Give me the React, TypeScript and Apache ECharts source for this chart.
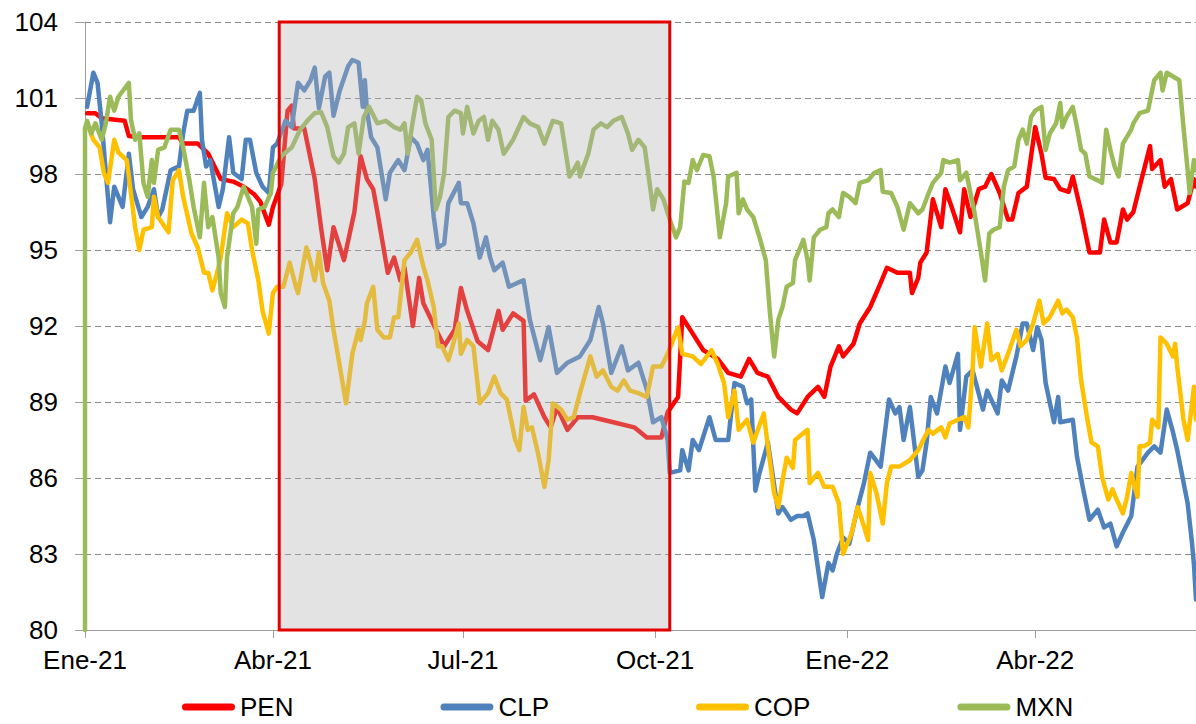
import React, { useEffect, useRef } from "react";
import * as echarts from "echarts";

// x is measured in days since 2021-01-01 (Ene-21)
const X_MAX_DAY = 532;
const TICK_DAYS = [0, 90, 181, 273, 365, 455];
const TICK_LABELS = ["Ene-21", "Abr-21", "Jul-21", "Oct-21", "Ene-22", "Abr-22"];
const Y_TICKS = [80, 83, 86, 89, 92, 95, 98, 101, 104];
const SERIES_NAMES = ["PEN", "CLP", "COP", "MXN"];
const SERIES_COLORS = ["#FF0000", "#4F81BD", "#FFC000", "#9BBB59"];
// shaded window (Abr-21 .. Oct-21), in days
const SHADE_DAYS = [93, 280];

const PEN: [number, number][] = [
  [1, 100.4], [5, 100.4], [8, 100.2], [19, 100.1], [21, 99.5], [27, 99.45], [36, 99.45], [45, 99.45], [47, 99.2], [54, 99.2],
  [59, 98.8], [65, 97.8], [71, 97.7], [76, 97.5], [81, 97.2], [84, 96.9], [88, 96.0], [90, 96.7], [94, 97.6], [97, 100.5],
  [99, 100.7], [100, 99.8], [105, 99.8], [110, 97.8], [113, 95.9], [116, 94.2], [119, 95.9], [124, 94.6], [129, 96.5], [132, 98.7],
  [135, 97.8], [138, 97.4], [140, 96.5], [145, 94.1], [148, 94.7], [151, 93.8], [153, 94.3], [157, 92.0], [160, 93.9], [162, 92.9],
  [169, 91.7], [172, 91.2], [177, 91.85], [180, 93.5], [183, 92.6], [188, 91.4], [193, 91.05], [198, 92.6], [200, 91.85], [205, 92.5],
  [210, 92.2], [211, 89.05], [215, 89.3], [220, 88.4], [223, 88.0], [226, 88.8], [231, 87.9], [236, 88.4], [243, 88.4], [253, 88.2],
  [263, 88.0], [269, 87.6], [276, 87.6], [279, 88.6], [284, 89.2], [286, 92.35], [291, 91.7], [296, 91.05], [303, 90.7], [308, 90.15],
  [314, 90.0], [318, 90.7], [322, 90.15], [327, 90.0], [332, 89.2], [338, 88.7], [341, 88.55], [346, 89.2], [351, 89.6], [354, 89.2],
  [357, 90.4], [361, 91.2], [363, 90.8], [368, 91.3], [371, 92.1], [376, 92.75], [381, 93.7], [384, 94.3], [389, 94.1], [395, 94.1],
  [396, 93.3], [399, 93.9], [400, 94.5], [403, 94.9], [406, 97.0], [410, 95.9], [412, 97.4], [415, 96.7], [419, 95.7], [421, 97.4],
  [424, 96.3], [428, 97.4], [431, 97.5], [434, 98.0], [438, 97.25], [442, 96.2], [444, 96.2], [447, 97.25], [451, 97.5], [455, 99.85],
  [458, 98.8], [460, 97.85], [464, 97.8], [467, 97.4], [471, 97.3], [473, 97.9], [477, 96.5], [481, 94.9], [486, 94.9], [488, 96.2],
  [491, 95.3], [494, 95.3], [497, 96.6], [499, 96.2], [502, 96.5], [505, 97.5], [510, 99.1], [511, 98.2], [515, 98.55], [517, 97.5],
  [520, 97.8], [523, 96.6], [528, 96.85], [531, 97.8], [532, 97.5],
];

const CLP: [number, number][] = [
  [1, 100.65], [4, 102.0], [6, 101.6], [8, 100.0], [10, 98.05], [12, 96.1], [14, 97.5], [18, 96.7], [21, 98.8], [23, 97.4],
  [27, 96.3], [30, 96.7], [33, 97.4], [35, 96.3], [37, 96.6], [41, 98.15], [45, 98.3], [47, 99.6], [49, 100.5], [52, 100.5],
  [55, 101.2], [56, 99.35], [58, 98.3], [60, 98.55], [64, 96.7], [66, 97.4], [69, 99.45], [71, 98.05], [75, 97.8], [77, 99.35],
  [79, 99.35], [82, 98.05], [85, 97.5], [88, 97.25], [90, 99.05], [92, 99.2], [96, 100.1], [99, 99.85], [102, 101.6], [105, 101.3],
  [108, 101.7], [110, 102.2], [112, 100.6], [115, 101.85], [117, 102.0], [119, 100.3], [122, 101.3], [126, 102.25], [128, 102.5], [131, 102.4],
  [133, 100.65], [134, 101.7], [135, 100.5], [137, 99.45], [140, 99.05], [144, 97.0], [146, 98.05], [150, 98.55], [153, 98.15], [156, 99.45],
  [159, 99.2], [162, 98.55], [164, 98.95], [167, 96.3], [169, 95.1], [172, 95.25], [174, 96.85], [179, 97.65], [180, 96.85], [183, 96.85],
  [186, 96.05], [189, 94.7], [192, 95.5], [194, 94.7], [196, 94.2], [200, 94.5], [203, 93.55], [207, 93.7], [210, 93.8], [213, 92.25],
  [218, 90.65], [222, 91.95], [226, 90.15], [231, 90.55], [237, 90.8], [242, 91.45], [246, 92.75], [248, 92.1], [252, 90.15], [257, 91.2],
  [260, 90.25], [265, 90.55], [269, 89.5], [272, 88.2], [276, 88.4], [279, 87.5], [280, 86.2], [285, 86.3], [286, 87.1], [289, 86.3],
  [291, 87.5], [294, 87.1], [299, 88.4], [302, 87.5], [308, 87.5], [311, 89.75], [315, 89.6], [317, 88.95], [319, 89.1], [321, 85.5],
  [323, 86.2], [327, 87.4], [332, 84.6], [334, 84.85], [338, 84.35], [341, 84.5], [344, 84.5], [346, 84.6], [349, 83.55], [353, 81.3],
  [356, 82.65], [358, 82.35], [360, 83.0], [363, 83.65], [366, 83.4], [370, 84.85], [373, 85.8], [376, 87.0], [381, 86.45], [385, 89.1],
  [388, 88.55], [390, 88.8], [392, 87.5], [395, 88.8], [399, 86.05], [401, 86.3], [403, 87.4], [405, 89.2], [408, 88.55], [412, 90.4],
  [414, 89.75], [418, 90.9], [419, 87.9], [422, 90.0], [425, 90.25], [430, 88.7], [432, 89.45], [437, 88.55], [439, 89.85], [442, 89.45],
  [446, 90.8], [449, 92.1], [451, 92.1], [454, 91.05], [456, 91.95], [458, 91.45], [460, 89.75], [464, 88.2], [466, 89.2], [467, 88.2],
  [473, 88.3], [475, 86.85], [478, 85.55], [481, 84.35], [485, 84.75], [488, 84.05], [491, 84.2], [494, 83.3], [497, 83.85], [501, 84.5],
  [504, 86.45], [509, 87.0], [512, 87.25], [515, 87.0], [518, 88.7], [521, 87.8], [523, 87.1], [528, 85.0], [530, 83.5], [531, 82.6],
  [532, 81.2],
];

const COP: [number, number][] = [
  [1, 100.0], [4, 99.35], [7, 99.05], [9, 98.05], [11, 97.65], [14, 99.35], [16, 98.85], [20, 98.55], [22, 97.25], [24, 95.9],
  [26, 95.0], [28, 95.8], [32, 95.9], [33, 97.1], [35, 96.3], [40, 95.7], [42, 97.75], [45, 98.15], [47, 97.1], [51, 95.65],
  [54, 95.1], [57, 94.1], [59, 94.1], [61, 93.4], [64, 94.35], [65, 94.7], [68, 96.45], [71, 95.9], [75, 96.2], [78, 96.05],
  [80, 95.0], [83, 93.8], [85, 92.6], [88, 91.7], [90, 93.3], [92, 93.55], [95, 93.55], [98, 94.5], [101, 93.55], [102, 93.3],
  [106, 95.1], [108, 94.5], [110, 93.8], [112, 94.9], [114, 93.7], [117, 93.0], [119, 91.85], [121, 90.9], [125, 88.95], [128, 90.9],
  [131, 91.85], [132, 91.45], [134, 92.2], [135, 92.9], [138, 93.55], [140, 91.85], [143, 91.55], [146, 91.55], [148, 92.35], [150, 92.35],
  [153, 94.6], [156, 94.9], [159, 95.4], [162, 94.35], [164, 93.8], [167, 92.75], [169, 91.2], [171, 91.2], [174, 90.65], [176, 91.2],
  [179, 92.1], [180, 90.9], [183, 91.45], [186, 91.2], [189, 88.95], [193, 89.35], [196, 90.0], [199, 89.35], [202, 89.1], [206, 87.5],
  [208, 87.1], [210, 88.8], [212, 87.9], [214, 88.0], [217, 86.95], [220, 85.65], [222, 86.7], [224, 88.95], [228, 88.7], [231, 88.3],
  [234, 88.4], [237, 89.35], [242, 90.8], [245, 90.0], [248, 90.25], [252, 89.6], [255, 89.45], [258, 89.85], [261, 89.45], [265, 89.35],
  [269, 89.2], [272, 90.4], [276, 90.4], [279, 90.9], [284, 91.95], [286, 90.9], [291, 90.8], [295, 90.5], [300, 91.05], [303, 90.5],
  [306, 89.75], [308, 88.4], [311, 89.45], [313, 87.9], [317, 88.3], [320, 87.4], [325, 88.55], [327, 87.25], [330, 85.4], [332, 84.85],
  [334, 85.9], [336, 86.8], [339, 86.4], [340, 87.5], [346, 87.9], [347, 85.8], [351, 86.2], [354, 85.65], [358, 85.65], [361, 85.0],
  [363, 83.0], [367, 83.8], [370, 84.85], [372, 84.35], [375, 83.55], [376, 86.2], [379, 85.4], [382, 84.2], [384, 85.8], [386, 86.45],
  [390, 86.45], [395, 86.7], [399, 87.1], [402, 87.6], [404, 87.9], [406, 87.75], [410, 88.0], [412, 87.6], [414, 88.15], [418, 88.3],
  [421, 88.4], [423, 88.0], [425, 90.25], [426, 91.95], [429, 90.4], [432, 92.1], [434, 90.65], [437, 90.9], [439, 90.25], [442, 90.9],
  [446, 91.85], [448, 91.2], [451, 91.45], [454, 92.1], [457, 93.0], [459, 92.1], [462, 92.35], [466, 93.0], [468, 92.5], [470, 92.65],
  [473, 92.35], [475, 91.55], [477, 89.85], [480, 88.3], [482, 87.4], [485, 87.25], [487, 86.05], [490, 85.15], [492, 85.55], [494, 85.15],
  [497, 84.6], [499, 85.25], [501, 86.2], [504, 85.25], [505, 87.25], [507, 87.25], [510, 87.4], [511, 88.3], [514, 88.0], [515, 91.55],
  [518, 91.3], [521, 90.8], [522, 91.3], [523, 90.4], [526, 88.3], [528, 87.5], [531, 89.6], [532, 88.3],
];

const MXN: [number, number][] = [
  [0, 80], [0, 99.8], [1, 100.1], [3, 99.6], [5, 100.0], [8, 99.35], [10, 100.0], [12, 101.05], [14, 100.5], [16, 101.05],
  [21, 101.6], [22, 100.15], [24, 99.35], [26, 99.6], [28, 97.65], [30, 97.1], [32, 98.55], [33, 97.65], [35, 98.95], [38, 99.05],
  [41, 99.75], [45, 99.75], [47, 99.05], [50, 97.75], [52, 96.7], [55, 95.5], [57, 97.65], [59, 95.9], [61, 96.3], [64, 94.7],
  [65, 93.3], [67, 92.75], [68, 94.7], [71, 96.45], [73, 96.7], [76, 97.5], [78, 97.1], [80, 96.7], [82, 95.25], [83, 96.6],
  [86, 96.7], [89, 97.25], [90, 98.05], [94, 98.7], [99, 99.05], [103, 99.75], [107, 100.15], [110, 100.4], [113, 100.45], [116, 99.85],
  [119, 98.7], [121.5, 98.45], [124, 98.8], [126, 99.85], [129, 100.0], [131, 98.8], [133.5, 100.25], [136, 100.65], [140, 100.0], [144, 100.1],
  [148, 99.85], [151, 99.75], [153, 100.0], [154.5, 98.8], [157, 100.1], [159, 101.05], [161, 100.9], [163, 100.0], [166, 99.35], [168, 96.6],
  [170, 97.1], [172, 98.05], [174, 100.25], [177, 100.5], [180, 100.4], [181, 99.6], [183, 100.65], [186, 99.6], [188.5, 100.1], [191, 100.25],
  [193, 99.35], [195, 100.1], [198, 99.75], [200.5, 98.8], [205, 99.35], [210, 100.25], [213, 100.0], [217, 99.85], [220, 99.2], [224, 100.1],
  [228, 100.0], [230, 98.95], [232, 97.9], [234, 98.15], [236, 98.45], [237, 97.9], [241, 98.8], [243.5, 99.75], [247, 100.0], [250, 99.85],
  [253, 100.1], [257, 100.25], [260, 99.6], [262, 98.95], [265, 99.35], [268, 99.05], [271, 97.25], [272, 96.6], [274, 97.4], [277, 97.0],
  [280, 96.2], [283, 95.5], [285, 95.9], [287, 97.7], [289, 97.65], [291, 98.55], [293, 98.15], [296, 98.75], [299, 98.7], [301, 97.9],
  [303, 96.3], [304, 95.5], [307, 96.85], [308, 97.9], [312, 98.05], [313, 96.45], [315, 97.0], [317, 96.6], [320, 96.3], [323, 95.5],
  [326, 94.6], [328, 92.5], [330, 90.8], [332, 92.25], [334, 92.75], [336, 93.55], [339, 93.7], [340, 94.6], [342, 95.0], [344, 95.4],
  [346, 94.6], [347, 93.8], [349, 95.5], [352, 95.8], [355, 95.9], [356, 96.45], [358, 96.6], [361, 96.3], [363, 97.25], [366, 97.1],
  [369, 96.85], [371, 97.65], [375, 97.75], [378, 98.05], [381, 98.15], [382, 97.3], [386, 97.25], [389, 96.7], [392, 95.8], [395, 96.85],
  [399, 96.45], [401, 96.6], [404, 97.25], [406, 97.65], [410, 98.05], [411, 98.55], [414, 98.45], [418, 98.55], [419, 97.75], [422, 98.05],
  [424, 97.25], [426, 96.45], [429, 94.9], [431, 93.8], [433, 95.65], [435, 95.8], [438, 95.9], [440, 97.5], [442, 98.15], [445, 98.3],
  [447, 99.35], [449, 99.75], [451, 99.2], [453, 100.25], [455, 100.5], [458, 100.65], [460, 98.95], [462, 99.6], [465, 100.0], [467, 100.8],
  [468, 99.85], [470, 100.25], [473, 100.65], [475, 99.85], [477, 98.95], [479, 98.8], [481, 97.9], [485, 97.75], [487, 97.65], [489, 99.75],
  [491, 98.95], [493, 98.3], [495, 97.9], [497, 99.2], [501, 99.75], [502, 100.0], [505, 100.4], [509, 100.5], [510, 100.9], [512, 101.7],
  [515, 102.0], [516, 101.3], [518, 102.0], [521, 101.85], [524, 101.7], [526, 99.85], [528, 98.15], [529, 97.25], [531, 98.55], [532, 98.15],
];

const SERIES_DATA = [PEN, CLP, COP, MXN];

const FONT = "'Liberation Sans', Arial, Helvetica, sans-serif";
const LEGEND_ICON = "path://M3.5,0H49.5A3.5,3.5,0,0,1,49.5,7H3.5A3.5,3.5,0,0,1,3.5,0Z";

export default function App() {
  const ref = useRef<HTMLDivElement>(null);

  useEffect(() => {
    document.body.style.margin = "0";
    if (!ref.current) return;
    const chart = echarts.init(ref.current, undefined, { renderer: "svg" });

    const lineSeries = SERIES_NAMES.map((name, i) => ({
      name,
      type: "line",
      data: SERIES_DATA[i],
      showSymbol: false,
      symbol: "none",
      clip: false,
      z: 2 + i * 0.01,
      color: SERIES_COLORS[i],
      lineStyle: { width: 4.5, color: SERIES_COLORS[i], join: "round", cap: "round" },
      itemStyle: { color: SERIES_COLORS[i] },
      emphasis: { disabled: true },
    }));

    const shade = {
      name: "window",
      type: "line",
      data: [],
      silent: true,
      z: 10,
      markArea: {
        silent: true,
        z: 10,
        label: { show: false },
        emphasis: { disabled: true },
        itemStyle: {
          color: "rgba(178,178,178,0.36)",
          borderColor: "#E60000",
          borderWidth: 3,
        },
        data: [[
          { xAxis: SHADE_DAYS[0], yAxis: Y_TICKS[Y_TICKS.length - 1] },
          { xAxis: SHADE_DAYS[1], yAxis: Y_TICKS[0] },
        ]],
      },
    };

    const option = {
      animation: false,
      backgroundColor: "#ffffff",
      textStyle: { fontFamily: FONT },
      grid: { left: 85, right: 0, top: 22, bottom: 94, containLabel: false },
      legend: {
        data: SERIES_NAMES,
        left: 177,
        top: 689,
        itemWidth: 53,
        itemHeight: 7,
        itemGap: 147,
        icon: LEGEND_ICON,
        selectedMode: false,
        textStyle: { fontSize: 26, color: "#000", fontFamily: FONT },
      },
      tooltip: { show: false },
      xAxis: {
        type: "value",
        min: 0,
        max: X_MAX_DAY,
        axisLine: { show: true, lineStyle: { color: "#9E9E9E", width: 1 } },
        axisTick: {
          show: true,
          length: 8,
          customValues: TICK_DAYS,
          lineStyle: { color: "#9E9E9E", width: 1 },
        },
        axisLabel: {
          customValues: TICK_DAYS,
          formatter: (v: number) => {
            const k = TICK_DAYS.indexOf(Math.round(v));
            return k >= 0 ? TICK_LABELS[k] : "";
          },
          fontSize: 26,
          color: "#000",
          fontFamily: FONT,
          margin: 17,
        },
        splitLine: { show: false },
      },
      yAxis: {
        type: "value",
        min: Y_TICKS[0],
        max: Y_TICKS[Y_TICKS.length - 1],
        axisLine: { show: true, lineStyle: { color: "#9E9E9E", width: 1 } },
        axisTick: {
          show: true,
          length: 10,
          customValues: Y_TICKS,
          lineStyle: { color: "#9E9E9E", width: 1 },
        },
        axisLabel: {
          customValues: Y_TICKS,
          fontSize: 26,
          color: "#000",
          fontFamily: FONT,
          margin: 27,
        },
        splitLine: {
          show: true,
          lineStyle: { color: "#8A8A8A", width: 1, type: [6, 4] },
        },
      },
      series: [...lineSeries, shade],
    };

    chart.setOption(option as any);
    return () => chart.dispose();
  }, []);

  return (
    <div
      ref={ref}
      style={{ width: 1196, height: 724, background: "#fff" }}
    />
  );
}
